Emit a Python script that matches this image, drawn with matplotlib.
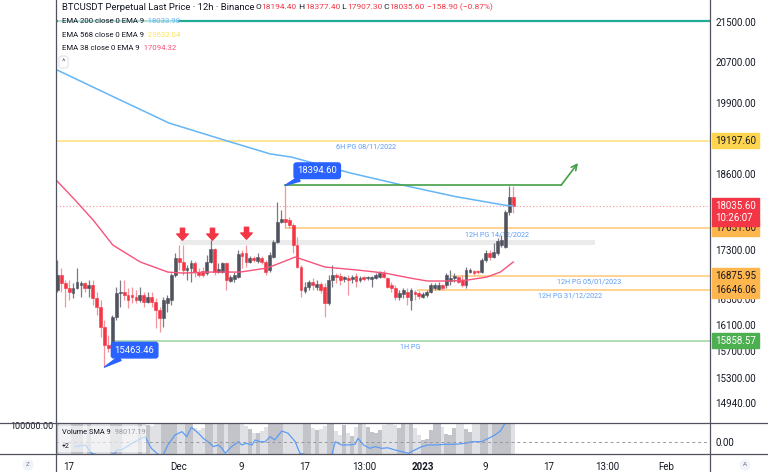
import numpy as np
import matplotlib
matplotlib.use("Agg")
import matplotlib.pyplot as plt
from matplotlib.path import Path
from matplotlib.patches import Rectangle
from matplotlib.lines import Line2D
from matplotlib.ticker import FixedLocator, NullLocator, NullFormatter, FuncFormatter

plt.rcParams['font.family'] = ['Roboto', 'DejaVu Sans']

# x axis = days from 1 Jan 2023; 12h candles start Nov 15 13:00
first_candle = -46.46

opens = [16643, 16884, 16755, 16675, 16596, 16675, 16723, 16755, 16675, 16723,
         16517, 16375, 16064, 15792, 15746, 16219, 16596, 16620, 16564, 16564,
         16532, 16485, 16564, 16453, 16532, 16453, 16327, 16203, 16438, 16485,
         16884, 17160, 17095, 16965, 16997, 17078, 16932, 16949, 16916, 17095,
         17309, 16932, 16932, 17078, 16787, 16820, 16852, 17243, 17243, 17095,
         17160, 17111, 17160, 17095, 16965, 17177, 17425, 17760, 17812, 17795,
         17710, 17375, 17013, 16627, 16691, 16771, 16691, 16739, 16691, 16438,
         16803, 16884, 16868, 16820, 16836, 16820, 16868, 16803, 16852, 16836,
         16820, 16836, 16852, 16916, 16836, 16723, 16675, 16532, 16580, 16611,
         16485, 16611, 16596, 16532, 16564, 16611, 16675, 16659, 16723, 16723,
         16787, 16836, 16852, 16803, 16723, 16932, 16949, 16949, 16932, 17127,
         17243, 17177, 17243, 17375, 17342, 17932, 18194.4]
highs = [17127, 16997, 16803, 16803, 16755, 16997, 16787, 16771, 16803, 16803,
         16611, 16485, 16172, 15943, 16250, 16691, 16803, 16803, 16675, 16691,
         16643, 16691, 16611, 16611, 16611, 16517, 16375, 16532, 16564, 16916,
         17243, 17375, 17375, 17046, 17127, 17111, 16997, 17013, 17210, 17458,
         17325, 17078, 17095, 17095, 16884, 16932, 17292, 17292, 17375, 17193,
         17193, 17243, 17193, 17127, 17259, 17458, 18103, 17966, 18394.6, 17846,
         17743, 17508, 17046, 16771, 16803, 16836, 16803, 16771, 16755, 16884,
         17046, 16916, 16916, 16868, 16884, 16884, 16916, 16868, 16868, 16868,
         16868, 16916, 16949, 16965, 16852, 16771, 16723, 16643, 16675, 16675,
         16675, 16643, 16627, 16611, 16643, 16755, 16755, 16771, 16739, 16916,
         16965, 16916, 16868, 16884, 17013, 16997, 16965, 16965, 17160, 17292,
         17292, 17408, 17491, 17541, 17966, 18390, 18377.4]
lows = [16611, 16611, 16375, 16485, 16517, 16659, 16532, 16611, 16532, 16406,
        16250, 15913, 15463.46, 15686, 15686, 16172, 16375, 16485, 16359, 16438,
        16438, 16453, 16375, 16438, 16375, 16049, 15988, 16064, 16296, 16406,
        16852, 16965, 16884, 16803, 16771, 16852, 16852, 16852, 16884, 17078,
        16884, 16916, 16916, 16643, 16771, 16771, 16836, 16997, 17013, 17078,
        17095, 17078, 17062, 16884, 16932, 17160, 17408, 17743, 17659, 17659,
        17243, 16997, 16532, 16596, 16643, 16643, 16643, 16596, 16219, 16406,
        16691, 16755, 16723, 16771, 16564, 16755, 16691, 16771, 16787, 16803,
        16691, 16820, 16836, 16836, 16675, 16611, 16485, 16485, 16517, 16406,
        16327, 16485, 16501, 16517, 16532, 16596, 16643, 16643, 16643, 16675,
        16723, 16771, 16755, 16691, 16675, 16916, 16884, 16900, 16916, 17095,
        17127, 17160, 17210, 17342, 17325, 17880, 17907.3]
closes = [16884, 16755, 16675, 16611, 16675, 16771, 16755, 16675, 16723, 16517,
          16375, 16064, 15792, 15746, 16219, 16596, 16620, 16564, 16485, 16532,
          16485, 16564, 16453, 16532, 16453, 16327, 16203, 16485, 16517, 16884,
          17160, 17095, 16965, 16997, 17078, 16932, 16884, 16884, 17095, 17309,
          16932, 16981, 17078, 16803, 16852, 16884, 17226, 17193, 17095, 17160,
          17127, 17177, 17095, 16932, 17210, 17425, 17760, 17812, 17760, 17710,
          17375, 17013, 16643, 16691, 16771, 16723, 16739, 16643, 16438, 16803,
          16884, 16852, 16803, 16852, 16803, 16852, 16787, 16836, 16820, 16852,
          16852, 16884, 16916, 16852, 16691, 16675, 16532, 16596, 16643, 16532,
          16643, 16580, 16548, 16580, 16611, 16723, 16723, 16723, 16675, 16884,
          16836, 16868, 16771, 16723, 16965, 16965, 16916, 16932, 17127, 17243,
          17177, 17259, 17441, 17458, 17932, 18191, 18035.6]
volumes = [150000, 140000, 130000, 125000, 118000, 135000, 120000, 115000, 128000, 160000,
           190000, 230000, 260000, 240000, 210000, 170000, 140000, 125000, 130000, 118000,
           122000, 115000, 120000, 101000, 99000, 104000, 150000, 135000, 112000, 180000,
           200000, 150000, 140000, 118000, 125000, 95000, 90000, 94000, 120000, 160000,
           175000, 125000, 118000, 140000, 112000, 115000, 165000, 120000, 98000, 92000,
           84000, 83000, 88000, 97000, 125000, 150000, 220000, 140000, 250000, 160000,
           190000, 210000, 230000, 135000, 118000, 95000, 90000, 92000, 99000, 170000,
           104000, 88000, 80000, 100000, 85000, 78000, 96000, 110000, 112000, 97000,
           86000, 83000, 90000, 101000, 120000, 115000, 100000, 95000, 102000, 125000,
           130000, 95000, 80000, 69000, 72000, 90000, 115000, 112000, 96000, 82000,
           80000, 94000, 115000, 118000, 93000, 87000, 112000, 108000, 130000, 125000,
           115000, 120000, 135000, 128000, 210000, 190000, 150000]

# indicator lines
ema200_days = [-46.5, -39.4, -32.25, -25.25, -19.4, -16.7, -9.2, -2.6, 4.1, 10.4, 11.54]
ema200_vals = [20537, 20023, 19522, 19208, 18955, 18898, 18613, 18400, 18200, 18050, 18034]
ema38_days = [-46.5, -44.2, -41.9, -39.4, -35.9, -32.4, -30.5, -27.0, -23.2, -19.8, -17.8,
              -16.2, -12.4, -8.3, -4.8, -1.6, 0.6, 3.5, 5.7, 8.2, 9.9, 11.54]
ema38_vals = [18470, 18137, 17794, 17374, 17095, 16932, 16916, 16932, 16932, 16997, 17095,
              17177, 17013, 16965, 16916, 16836, 16788, 16788, 16803, 16852, 16932, 17095]
sma_days = [-44.2, -42.9, -42.1, -40.6, -39.1, -38.9, -38.3, -36.6, -35.3, -34.5, -33.8,
            -33.1, -32.4, -31.5, -30.6, -30.0, -29.4, -28.5, -27.9, -27.3, -26.6, -26.0,
            -25.5, -25.1, -24.7, -24.3, -23.4, -23.0, -22.4, -21.7, -21.3, -20.7, -20.0,
            -19.4, -18.8, -17.9, -17.1, -16.2, -15.6, -13.7, -11.6, -11.1, -10.3, -9.4,
            -8.6, -8.2, -7.5, -6.7, -6.0, -5.2, -4.4, -3.5, -2.6, -1.8, -1.0, -0.1,
            0.7, 1.6, 2.9, 4.1, 5.4, 6.3, 7.5, 8.4, 9.2, 9.9, 10.5, 11.54]
sma_vals = [55400, 58900, 41400, 35000, 41400, 48400, 48400, 65800, 76300, 51900, 41400,
            35000, 58900, 79800, 86800, 76300, 96000, 83400, 72900, 65800, 55400, 58900,
            51900, 41400, 48400, 55400, 65800, 58900, 62400, 58900, 69400, 65800, 65800,
            76300, 69400, 88200, 83400, 65800, 41400, 35000, 35000, 65800, 58900, 58900,
            60300, 72900, 58900, 51900, 55400, 51900, 53000, 48400, 44800, 41400, 48400, 55400,
            58900, 58900, 60300, 60300, 62400, 65800, 65800, 72900, 79800, 88200, 104400, 112000]

# horizontal levels
level_prices = [19197.60, 17651.60, 16875.95, 16646.06, 15858.57]
level_start = [-46.63, -17.46, 3.5, -0.7, -39.4]
level_names = ['6H PG 08/11/2022', '12H PG 14/12/2022', '12H PG 05/01/2023',
               '12H PG 31/12/2022', '1H PG']
level_name_x = [-7.2, 9.5, 21.2, 18.8, -1.6]
level_line_colors = ['#ffe082', '#ffcc80', '#ffcc80', '#ffcc80', '#a5d6a7']
level_box_colors = ['#ffd54f', '#ffb74d', '#ffb74d', '#ffb74d', '#4caf50']
level_text_colors = ['#131722', '#131722', '#131722', '#131722', 'white']

top_line = 21510
last_price = 18035.6
band_x = [-30.9, 21.95]
band_prices = [17375, 17458]
target_days = [-17.46, 17.62, 19.78]
target_prices = [18394.6, 18394.6, 18790]
sell_arrow_days = [-30.65, -26.8, -22.4]
sell_arrow_prices = [17560, 17560, 17575]

price_ticks = [21500, 20700, 19900, 18600, 17300, 16500, 16100, 15700, 15300, 14940]
date_ticks = [-45, -31, -23, -15, -7.46, 0, 8, 16, 23.54, 31]
date_labels = ['17', 'Dec', '9', '17', '13:00', '2023', '9', '17', '13:00', 'Feb']

TEXT = '#131722'
RED = '#f23645'
W, H = 768, 472


def fx(px):
    return px / W


def fy(py):
    return 1 - py / H


fig = plt.figure(figsize=(7.68, 4.72), dpi=100)
ax = fig.add_axes([fx(56), fy(423), (709.5 - 56) / W, 423 / H])
ax_v = fig.add_axes([fx(56), fy(454), (709.5 - 56) / W, 31 / H])

o = np.array(opens)
h = np.array(highs)
l = np.array(lows)
c = np.array(closes)
x = first_candle + 0.5 * np.arange(len(o))
up = c >= o

# main pane
ax.set_yscale('log')
ax.set_ylim(14659, 21956)
ax.set_xlim(-46.63, 36.51)
for s in ax.spines.values():
    s.set_visible(False)

ax.fill_between(band_x, band_prices[0], band_prices[1], color='#ebebec', lw=0, zorder=1)
ax.axhline(top_line, color='#22ab94', lw=1.6, zorder=2)
ax.axhline(last_price, color=RED, lw=0.8, ls=(0, (1, 2)), alpha=0.55, zorder=2)

for p, x0, lc in zip(level_prices, level_start, level_line_colors):
    ax.plot([x0, 36.51], [p, p], color=lc, lw=1.2, zorder=2, solid_capstyle='butt')
for name, nx, p in zip(level_names, level_name_x, level_prices):
    ax.annotate(name, (nx, p), xytext=(0, -4.6), textcoords='offset points',
                ha='center', va='center', fontsize=5.2, color='#5b9cf6')

# candles
wick_col = np.where(up, '#787b86', '#f4949c')
body_col = np.where(up, '#50535e', RED)
ax.vlines(x, l, h, colors=wick_col, lw=0.9, zorder=3)
ax.bar(x, np.abs(c - o), bottom=np.minimum(o, c), width=0.36, color=body_col,
       edgecolor=body_col, linewidth=0.4, zorder=4)

ax.plot(ema200_days, ema200_vals, color='#64b5f6', lw=1.1, zorder=5)
ax.plot(ema38_days, ema38_vals, color='#f7527a', lw=1.0, zorder=5)

# green target path
ax.plot(target_days[:2], target_prices[:2], color='#43a047', lw=1.2, zorder=6)
ax.annotate('', xy=(target_days[2], target_prices[2]), xytext=(target_days[1], target_prices[1]),
            arrowprops=dict(arrowstyle='->', color='#43a047', lw=1.2, shrinkA=0, shrinkB=0,
                            mutation_scale=10), zorder=6)

# red sell arrows
arrow = Path([(-0.2, 0.6), (0.2, 0.6), (0.2, 0.05), (0.55, 0.05), (0, -0.55),
              (-0.55, 0.05), (-0.2, 0.05), (-0.2, 0.6)], closed=True)
ax.plot(sell_arrow_days, sell_arrow_prices, ls='none', marker=arrow, ms=9,
        color=RED, mec=RED, zorder=7)

# price notes
for px_, pp, off in [(x[58], 18394.6, (23, 10.5)), (x[12], 15463.46, (21.7, 12.2))]:
    ax.annotate(f'{pp:.2f}', (px_, pp), xytext=off, textcoords='offset points',
                ha='center', va='center', color='white', fontsize=6.8,
                bbox=dict(boxstyle='round,pad=0.35,rounding_size=0.25', fc='#2962ff', ec='#2962ff'),
                arrowprops=dict(arrowstyle='wedge,tail_width=0.5', fc='#2962ff', ec='#2962ff',
                                shrinkA=0, shrinkB=0), zorder=8)

# price axis
ax.yaxis.tick_right()
ax.yaxis.set_major_locator(FixedLocator(price_ticks))
ax.yaxis.set_major_formatter(FuncFormatter(lambda v, _: f'{v:.2f}'))
ax.yaxis.set_minor_locator(NullLocator())
ax.yaxis.set_minor_formatter(NullFormatter())
ax.tick_params(axis='y', length=0, pad=4, labelsize=7, labelcolor=TEXT)
ax.tick_params(axis='x', length=0, labelbottom=False)

box_kw = dict(xycoords=('axes fraction', 'data'), textcoords='offset points',
              ha='left', va='center', fontsize=7, annotation_clip=False, zorder=10)
for p, bc, tc in zip(level_prices, level_box_colors, level_text_colors):
    ax.annotate(f'{p:.2f}', (1, p), xytext=(4, 0), color=tc,
                bbox=dict(boxstyle='square,pad=0.28', fc=bc, ec=bc), **box_kw)
ax.annotate(f'{last_price:.2f}\n10:26:07', (1, last_price), xytext=(4, -4.3), color='white',
            linespacing=1.2, bbox=dict(boxstyle='square,pad=0.3', fc=RED, ec=RED), **box_kw)

# volume pane
ax_v.set_xlim(-46.63, 36.51)
ax_v.set_ylim(40000, 105000)
for s in ax_v.spines.values():
    s.set_visible(False)
vol_col = np.where(up, '#c2c4c9', '#e0e1e4')
ax_v.bar(x, volumes, width=0.5, color=vol_col, linewidth=0, zorder=1)
ax_v.plot(sma_days, sma_vals, color='#5b9cf6', lw=0.9, zorder=3)
ax_v.set_yticks([100000], ['100000.00'])
ax_v.tick_params(axis='y', length=0, pad=2, labelsize=6.5, labelcolor=TEXT)
ax_v.set_xticks(date_ticks, date_labels)
ax_v.tick_params(axis='x', length=0, pad=5.5, labelsize=7, labelcolor=TEXT)
for t in ax_v.get_xticklabels():
    if t.get_text() == '2023':
        t.set_fontweight('bold')

ax_o = ax_v.twinx()
ax_o.set_ylim(-12, 19)
for s in ax_o.spines.values():
    s.set_visible(False)
ax_o.axhline(0, color='#9598a1', lw=0.7, ls=(0, (3, 3)))
ax_o.set_yticks([0], ['0.00'])
ax_o.tick_params(axis='y', length=0, pad=4, labelsize=7, labelcolor=TEXT)

# frame lines
line_col = '#50535e'
for xx in (56, 709.5):
    fig.add_artist(Line2D([fx(xx), fx(xx)], [0, 1], color=line_col, lw=0.9))
for yy in (423, 454):
    fig.add_artist(Line2D([0, 1], [fy(yy), fy(yy)], color=line_col, lw=0.9))

# legends
fig.add_artist(Rectangle((fx(58), fy(28)), (178 - 58) / W, 14 / H, fc='white', ec='none', alpha=0.65))
fig.add_artist(Rectangle((fx(58), fy(452)), (146 - 58) / W, 26 / H, fc='white', ec='none', alpha=0.6))
fig.canvas.draw()
renderer = fig.canvas.get_renderer()


def text_runs(x_px, y_px, runs, size):
    for s, col in runs:
        t = fig.text(fx(x_px), fy(y_px), s, color=col, fontsize=size, va='center', ha='left')
        x_px += t.get_window_extent(renderer=renderer).width


text_runs(62, 7, [('BTCUSDT Perpetual Last Price · 12h · Binance', TEXT)], 6.8)
text_runs(256, 7, [('O', TEXT), ('18194.40', RED), (' H', TEXT), ('18377.40', RED),
                   (' L', TEXT), ('17907.30', RED), (' C', TEXT), ('18035.60', RED),
                   (' −158.90 (−0.87%)', RED)], 6)
text_runs(62, 21, [('EMA 200 close 0 EMA 9', TEXT), ('  18033.98', '#64b5f6')], 5.6)
text_runs(62, 35, [('EMA 568 close 0 EMA 9', TEXT), ('  23632.04', '#fbe35a')], 5.6)
text_runs(62, 48, [('EMA 38 close 0 EMA 9', TEXT), ('  17094.32', '#f7527a')], 5.6)
fig.text(fx(63.5), fy(62), '^', fontsize=6, color='#50535e', ha='center', va='center',
         bbox=dict(boxstyle='round,pad=0.35', fc='white', ec='#e0e3eb', lw=0.8))
text_runs(62, 433, [('Volume SMA 9', TEXT), ('  98017.19', '#9598a1')], 5.3)
fig.text(fx(62), fy(447), '+2', fontsize=5, color=TEXT, va='center')

for bx, letter in [(28, 'Z'), (745, 'A')]:
    fig.text(fx(bx), fy(465), letter, fontsize=4.5, color='#787b86', ha='center', va='center',
             bbox=dict(boxstyle='circle,pad=0.5', fc='#f0f3fa', ec='none'))

fig.savefig('out.png', dpi=100)
